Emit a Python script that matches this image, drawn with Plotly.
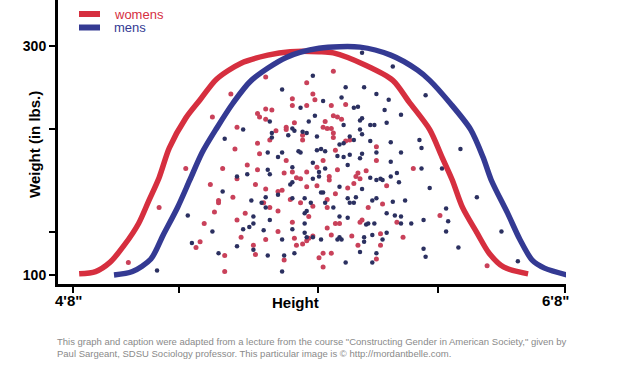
import plotly.graph_objects as go

# ---------------- data (height in inches, weight in lbs) ----------------
women_height = [63.7, 62.8, 65.0, 65.4, 65.7, 65.1, 65.4, 64.0, 65.9, 65.6, 65.0, 63.9, 65.1, 61.5, 63.3,
                64.5, 65.0, 64.0, 67.4, 67.7, 66.7, 67.8, 66.7, 67.4, 68.6, 69.3, 68.7, 68.9, 69.1, 68.3,
                66.4, 66.4, 66.8, 68.2, 68.4, 68.6, 67.2, 67.2, 68.7, 68.7, 69.3, 69.5, 68.8, 70.8, 70.8,
                66.4, 68.2, 67.9, 66.3, 66.7, 67.4, 68.9, 69.9, 70.3, 66.9, 67.1, 68.5, 69.8, 70.0, 72.6,
                68.7, 65.4, 62.7, 64.9, 65.4, 66.0, 63.8, 63.1, 63.1, 65.3, 65.6, 66.0, 60.2, 62.9, 64.4,
                64.0, 62.4, 66.0, 64.2, 65.4, 62.2, 62.0, 64.8, 64.9, 63.4, 63.4, 58.7, 66.2, 67.4, 67.9,
                68.5, 69.4, 69.7, 71.3, 66.6, 67.1, 68.8, 68.4, 67.7, 71.1, 68.4, 70.4, 67.5, 70.1, 70.0,
                66.7, 71.8, 68.8, 69.0, 68.4, 71.0, 67.7, 67.5, 68.6, 69.6, 72.1, 66.8, 67.4, 66.9, 67.2,
                69.9, 71.0, 68.2, 68.6, 66.3, 68.0, 70.8, 68.2, 73.9, 76.2]
women_weight = [258, 238, 241, 245, 244, 238, 236, 229, 226, 218, 215, 210, 206, 193, 193,
                196, 192, 184, 268, 258, 254, 253, 248, 248, 248, 249, 239, 238, 236, 234,
                229, 227, 233, 229, 228, 228, 222, 218, 224, 220, 217, 218, 209, 212, 200,
                200, 200, 194, 189, 190, 190, 192, 189, 191, 185, 184, 186, 186, 184, 193,
                278, 273, 179, 179, 175, 173, 168, 165, 163, 163, 159, 156, 159, 155, 154,
                148, 145, 138, 133, 131, 129, 124, 126, 118, 117, 103, 111, 174, 177, 178,
                183, 176, 180, 178, 166, 163, 171, 166, 160, 162, 159, 159, 151, 148, 146,
                146, 146, 145, 145, 141, 136, 134, 132, 135, 134, 133, 132, 130, 126, 127,
                126, 126, 119, 119, 113, 115, 114, 107, 152, 108]

men_height = [65.6, 64.3, 65.7, 65.7, 63.4, 65.5, 66.0, 65.5, 65.6, 64.5, 64.0, 69.3, 70.2, 70.8, 66.2,
              68.2, 69.1, 71.4, 67.1, 69.7, 69.9, 71.2, 67.8, 72.0, 67.5, 69.2, 70.0, 70.1, 70.5, 70.7,
              71.3, 66.7, 66.8, 67.2, 67.4, 70.0, 70.1, 67.9, 66.5, 69.7, 69.5, 69.2, 69.0, 70.5, 71.5,
              67.9, 68.1, 68.3, 67.0, 67.1, 66.2, 70.8, 72.0, 68.9, 69.2, 69.5, 70.0, 70.1, 67.7, 71.5,
              69.4, 66.7, 68.0, 68.3, 71.8, 68.0, 67.7, 70.5, 71.0, 71.5, 73.2, 72.9, 73.0, 74.9, 73.0,
              74.0, 70.1, 71.6, 67.7, 63.3, 66.0, 65.4, 64.7, 65.2, 65.4, 61.6, 64.8, 64.8, 65.6, 64.6,
              64.3, 65.3, 62.8, 61.8, 64.0, 64.8, 63.1, 65.5, 60.1, 66.7, 66.6, 68.2, 68.1, 69.0, 70.1,
              70.8, 71.1, 71.9, 66.7, 67.3, 68.3, 67.6, 69.4, 69.5, 69.7, 69.8, 70.6, 70.8, 71.6, 72.2,
              68.7, 67.3, 67.4, 71.3, 71.7, 69.0, 69.4, 67.3, 72.0, 72.0, 70.3, 70.4, 70.7, 66.7, 71.3,
              67.3, 67.4, 67.7, 68.1, 69.0, 68.9, 69.1, 70.2, 70.6, 71.1, 66.2, 70.2, 70.0, 70.8, 66.3,
              66.8, 69.3, 70.6, 66.2, 73.4, 75.7, 74.2, 72.5, 73.1, 74.3, 74.2, 76.9, 74.8, 73.1, 73.2,
              77.7]
men_weight = [234, 227, 224, 220, 219, 207, 203, 192, 188, 188, 186, 264, 264, 258, 262,
              252, 255, 253, 246, 246, 247, 244, 239, 240, 234, 231, 235, 237, 231, 231,
              233, 228, 226, 225, 224, 227, 223, 221, 222, 218, 221, 215, 214, 217, 216,
              209, 210, 208, 208, 207, 207, 207, 207, 204, 203, 205, 202, 206, 198, 199,
              196, 194, 190, 193, 189, 186, 184, 185, 184, 186, 257, 218, 211, 210, 193,
              193, 294, 282, 274, 173, 170, 168, 165, 163, 159, 152, 151, 145, 148, 142,
              140, 139, 138, 128, 125, 122, 119, 117, 104, 181, 179, 172, 172, 177, 175,
              183, 183, 181, 167, 167, 163, 163, 167, 163, 163, 168, 165, 167, 164, 165,
              159, 154, 156, 154, 152, 151, 150, 145, 151, 145, 144, 145, 145, 140, 137,
              137, 133, 133, 131, 133, 131, 131, 133, 135, 131, 131, 129, 120, 119, 117,
              119, 111, 111, 103, 176, 168, 158, 145, 148, 147, 138, 138, 124, 123, 116,
              112]

women_curve_x = [56.3, 57.1, 57.8, 58.5, 59.2, 59.7, 60.2, 60.7, 61.5, 62.2, 63.0, 64.2, 65.5, 66.6,
                 68.0, 68.7, 70.3, 71.6, 72.4, 73.4, 74.0, 74.5, 75.0, 75.7, 76.3, 77.0, 78.2]
women_curve_y = [101, 103, 111, 126, 145, 165, 185, 211, 237, 253, 271, 285, 292, 295,
                 295, 294, 283, 270, 251, 227, 203, 183, 159, 137, 119, 107, 101]

men_curve_x = [58.0, 58.9, 59.8, 60.4, 61.1, 61.7, 62.3, 63.0, 63.8, 64.7, 66.4, 68.0, 70.0, 71.5,
               72.8, 73.4, 74.4, 75.4, 76.0, 76.4, 77.2, 77.8, 78.4, 79.0, 80.1]
men_curve_y = [100, 103, 114, 135, 159, 183, 207, 228, 250, 270, 290, 298, 299, 292,
               279, 270, 250, 227, 203, 183, 154, 131, 113, 106, 100]

x_tick_vals = [56, 61.17, 67.95, 73.8, 80]
y_tick_vals = [100, 137.6, 227.5, 300]
y_tick_text = ["100", "", "", "300"]
series_names = ["womens", "mens"]

# ---------------- styles ----------------
RED_LINE = "#d62f3f"
BLUE_LINE = "#343a93"
RED_DOT = "#c9415a"
BLUE_DOT = "#2b3060"
FONT = "Liberation Sans, Arial, sans-serif"

fig = go.Figure()

fig.add_trace(go.Scatter(x=women_height, y=women_weight, mode="markers",
                         marker=dict(size=5, color=RED_DOT), showlegend=False, cliponaxis=False))
fig.add_trace(go.Scatter(x=men_height, y=men_weight, mode="markers",
                         marker=dict(size=4.5, color=BLUE_DOT), showlegend=False, cliponaxis=False))
fig.add_trace(go.Scatter(x=women_curve_x, y=women_curve_y, mode="lines", name=series_names[0],
                         line=dict(color=RED_LINE, width=5.5, shape="spline", smoothing=0.8),
                         showlegend=False, cliponaxis=False))
fig.add_trace(go.Scatter(x=men_curve_x, y=men_curve_y, mode="lines", name=series_names[1],
                         line=dict(color=BLUE_LINE, width=5.5, shape="spline", smoothing=0.8),
                         showlegend=False, cliponaxis=False))

W, H = 633, 380
L, R, T, B = 58, 67, 0, 96
pw, ph = W - L - R, H - T - B

def px(x):
    """window pixel x -> paper x"""
    return (x - L) / pw

def py(y):
    """window pixel y -> paper y"""
    return (H - B - y) / ph

fig.update_layout(
    width=W, height=H,
    margin=dict(l=L, r=R, t=T, b=B, pad=0),
    paper_bgcolor="white", plot_bgcolor="white",
    font=dict(family=FONT, color="black"),
    showlegend=False,
    hovermode=False,
    xaxis=dict(range=[55.268, 80.049], showgrid=False, zeroline=False,
               showline=True, linecolor="black", linewidth=3,
               ticks="outside", ticklen=6, tickwidth=2, tickcolor="black",
               tickvals=x_tick_vals, showticklabels=False),
    yaxis=dict(range=[92.14, 340.17], showgrid=False, zeroline=False,
               showline=True, linecolor="black", linewidth=3,
               ticks="outside", ticklen=6, tickwidth=2, tickcolor="black",
               tickvals=y_tick_vals, ticktext=y_tick_text,
               tickfont=dict(family=FONT, size=14, color="black", weight="bold")),
)

ann = []
# x tick labels
ann.append(dict(text="<b>4'8\"</b>", xref="paper", yref="paper", x=px(68), y=py(300),
                showarrow=False, xanchor="center", yanchor="middle",
                font=dict(family=FONT, size=15, color="black")))
ann.append(dict(text="<b>6'8\"</b>", xref="paper", yref="paper", x=px(555), y=py(300),
                showarrow=False, xanchor="center", yanchor="middle",
                font=dict(family=FONT, size=15, color="black")))
# axis titles
ann.append(dict(text="<b>Height</b>", xref="paper", yref="paper", x=px(295), y=py(302),
                showarrow=False, xanchor="center", yanchor="middle",
                font=dict(family=FONT, size=15, color="black")))
ann.append(dict(text="<b>Weight (in lbs.)</b>", xref="paper", yref="paper", x=px(34), y=py(145),
                showarrow=False, xanchor="center", yanchor="middle", textangle=-90,
                font=dict(family=FONT, size=15, color="black")))
# legend
ann.append(dict(text=series_names[0], xref="paper", yref="paper", x=px(112), y=py(14),
                showarrow=False, xanchor="left", yanchor="middle",
                font=dict(family=FONT, size=13, color=RED_LINE)))
ann.append(dict(text=series_names[1], xref="paper", yref="paper", x=px(112), y=py(27.5),
                showarrow=False, xanchor="left", yanchor="middle",
                font=dict(family=FONT, size=13, color=BLUE_LINE)))
# caption
ann.append(dict(text="This graph and caption were adapted from a lecture from the course \"Constructing Gender in American Society,\" given by",
                xref="paper", yref="paper", x=px(55), y=py(341),
                showarrow=False, xanchor="left", yanchor="middle",
                font=dict(family=FONT, size=9.5, color="#8a8a8a")))
ann.append(dict(text="Paul Sargeant, SDSU Sociology professor. This particular image is © http://mordantbelle.com.",
                xref="paper", yref="paper", x=px(55), y=py(354),
                showarrow=False, xanchor="left", yanchor="middle",
                font=dict(family=FONT, size=9.5, color="#8a8a8a")))
fig.update_layout(annotations=ann)

shapes = [
    dict(type="line", xref="paper", yref="paper", x0=px(79), x1=px(100), y0=py(14), y1=py(14),
         line=dict(color=RED_LINE, width=6)),
    dict(type="line", xref="paper", yref="paper", x0=px(79), x1=px(100), y0=py(27.5), y1=py(27.5),
         line=dict(color=BLUE_LINE, width=6)),
]
fig.update_layout(shapes=shapes)

# remove the browser's default 8px body margin so the figure fills the window
fig.write_html("out.html", config={"displayModeBar": False, "staticPlot": True},
               post_script="document.body.style.margin='0px';")
